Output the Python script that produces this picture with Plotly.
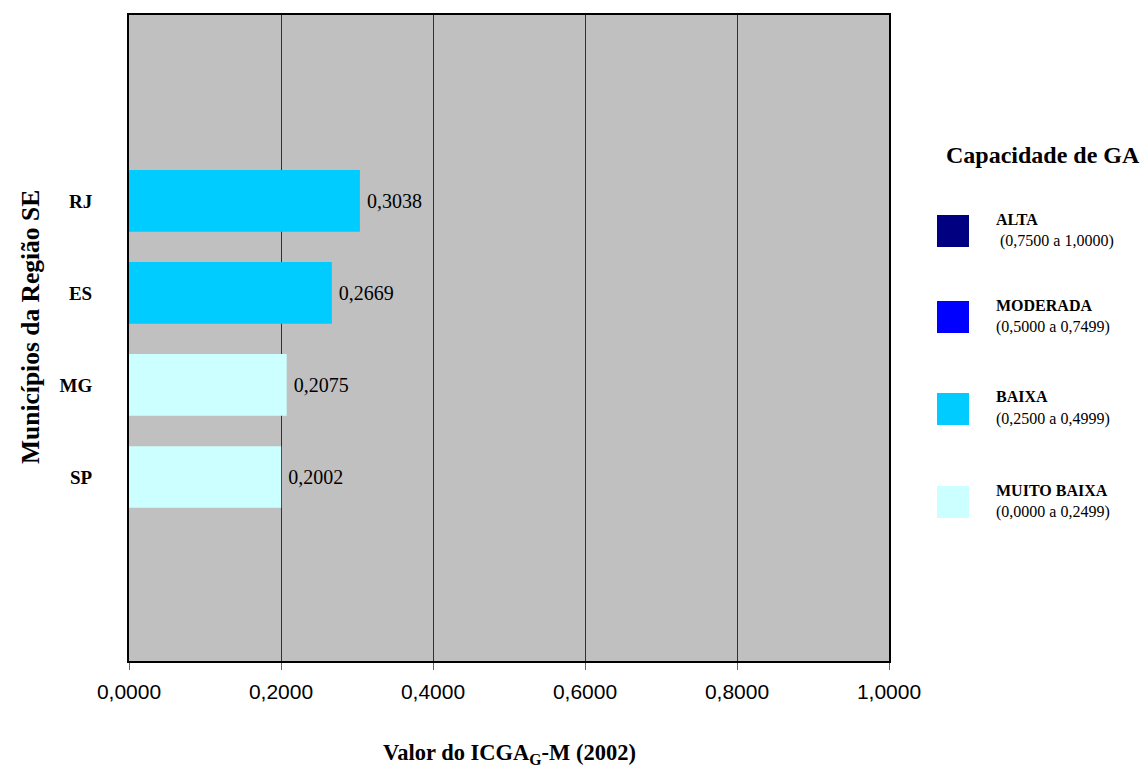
import plotly.graph_objects as go

# ---- data ----
states = ["SP", "MG", "ES", "RJ"]
values = [0.2002, 0.2075, 0.2669, 0.3038]
bar_colors = ["#CCFFFF", "#CCFFFF", "#00CCFF", "#00CCFF"]

legend_names = ["ALTA", "MODERADA", "BAIXA", "MUITO BAIXA"]
legend_ranges = [" (0,7500 a 1,0000)", "(0,5000 a 0,7499)", "(0,2500 a 0,4999)", "(0,0000 a 0,2499)"]
legend_colors = ["#000080", "#0000FF", "#00CCFF", "#CCFFFF"]

x_tickvals = [0, 0.2, 0.4, 0.6, 0.8, 1.0]
x_ticktext = ["0,0000", "0,2000", "0,4000", "0,6000", "0,8000", "1,0000"]

SERIF = "Liberation Serif, Times New Roman, serif"
SANS = "Liberation Sans, Arial, sans-serif"

W, H = 1144, 769
L, R, T, B = 129, 889, 15, 661  # plot area pixels


def px_to_paper(x=None, y=None):
    out = []
    if x is not None:
        out.append((x - L) / (R - L))
    if y is not None:
        out.append((B - y) / (B - T))
    return out[0] if len(out) == 1 else tuple(out)


fig = go.Figure()
fig.add_trace(go.Bar(
    x=values,
    y=list(range(len(states))),
    orientation="h",
    width=0.67,
    marker=dict(color=bar_colors, line=dict(width=0)),
    text=["\u2009" + f"{v:.4f}".replace(".", ",") for v in values],
    textposition="outside",
    textfont=dict(family=SERIF, size=20, color="black"),
    cliponaxis=False,
    showlegend=False,
))

shapes = []
annotations = []

# custom legend
sq_tops = [215, 301, 393, 486]
for name, rng, col, top in zip(legend_names, legend_ranges, legend_colors, sq_tops):
    x0 = px_to_paper(x=937)
    x1 = px_to_paper(x=969)
    y1 = px_to_paper(y=top)
    y0 = px_to_paper(y=top + 32)
    shapes.append(dict(type="rect", xref="paper", yref="paper",
                       x0=x0, x1=x1, y0=y0, y1=y1,
                       fillcolor=col, line=dict(width=0)))
    annotations.append(dict(xref="paper", yref="paper",
                            x=px_to_paper(x=994), y=px_to_paper(y=top + 4),
                            xanchor="left", yanchor="middle", showarrow=False,
                            text=f"<b>{name}</b>",
                            font=dict(family=SERIF, size=16, color="black")))
    annotations.append(dict(xref="paper", yref="paper",
                            x=px_to_paper(x=994), y=px_to_paper(y=top + 26),
                            xanchor="left", yanchor="middle", showarrow=False,
                            text=rng,
                            font=dict(family=SERIF, size=16, color="black")))

annotations.append(dict(xref="paper", yref="paper",
                        x=px_to_paper(x=1043), y=px_to_paper(y=155),
                        xanchor="center", yanchor="middle", showarrow=False,
                        text="<b>Capacidade de GA</b>",
                        font=dict(family=SERIF, size=24, color="black")))

# axis titles
annotations.append(dict(xref="paper", yref="paper",
                        x=px_to_paper(x=509), y=px_to_paper(y=754),
                        xanchor="center", yanchor="middle", showarrow=False,
                        text="<b>Valor do ICGA<sub>G</sub>-M (2002)</b>",
                        font=dict(family=SERIF, size=22.5, color="black")))
annotations.append(dict(xref="paper", yref="paper",
                        x=px_to_paper(x=30), y=px_to_paper(y=327),
                        xanchor="center", yanchor="middle", showarrow=False,
                        textangle=-90,
                        text="<b>Municípios da Região SE</b>",
                        font=dict(family=SERIF, size=25.5, color="black")))

fig.update_layout(
    width=W, height=H,
    margin=dict(l=L, r=W - R, t=T, b=H - B, pad=0),
    paper_bgcolor="white",
    plot_bgcolor="#C0C0C0",
    shapes=shapes,
    annotations=annotations,
    bargap=0.33,
)

fig.update_xaxes(
    range=[0, 1.0],
    tickvals=x_tickvals, ticktext=x_ticktext,
    tickfont=dict(family=SANS, size=21, color="black"),
    ticks="outside", ticklen=7, tickcolor="#666666", tickwidth=1,
    ticklabelstandoff=4,
    showgrid=True, gridcolor="#303030", gridwidth=1,
    showline=True, linecolor="black", linewidth=2, mirror=True,
    zeroline=False,
    fixedrange=True,
)
fig.update_yaxes(
    range=[-2, 5.02],
    tickvals=list(range(len(states))), ticktext=[f"<b>{s}</b>" for s in states],
    tickfont=dict(family=SERIF, size=19, color="black"),
    ticks="", ticklabelstandoff=31,
    showgrid=False,
    showline=True, linecolor="black", linewidth=2, mirror=True,
    zeroline=False,
    fixedrange=True,
)

fig.write_html("out.html")
